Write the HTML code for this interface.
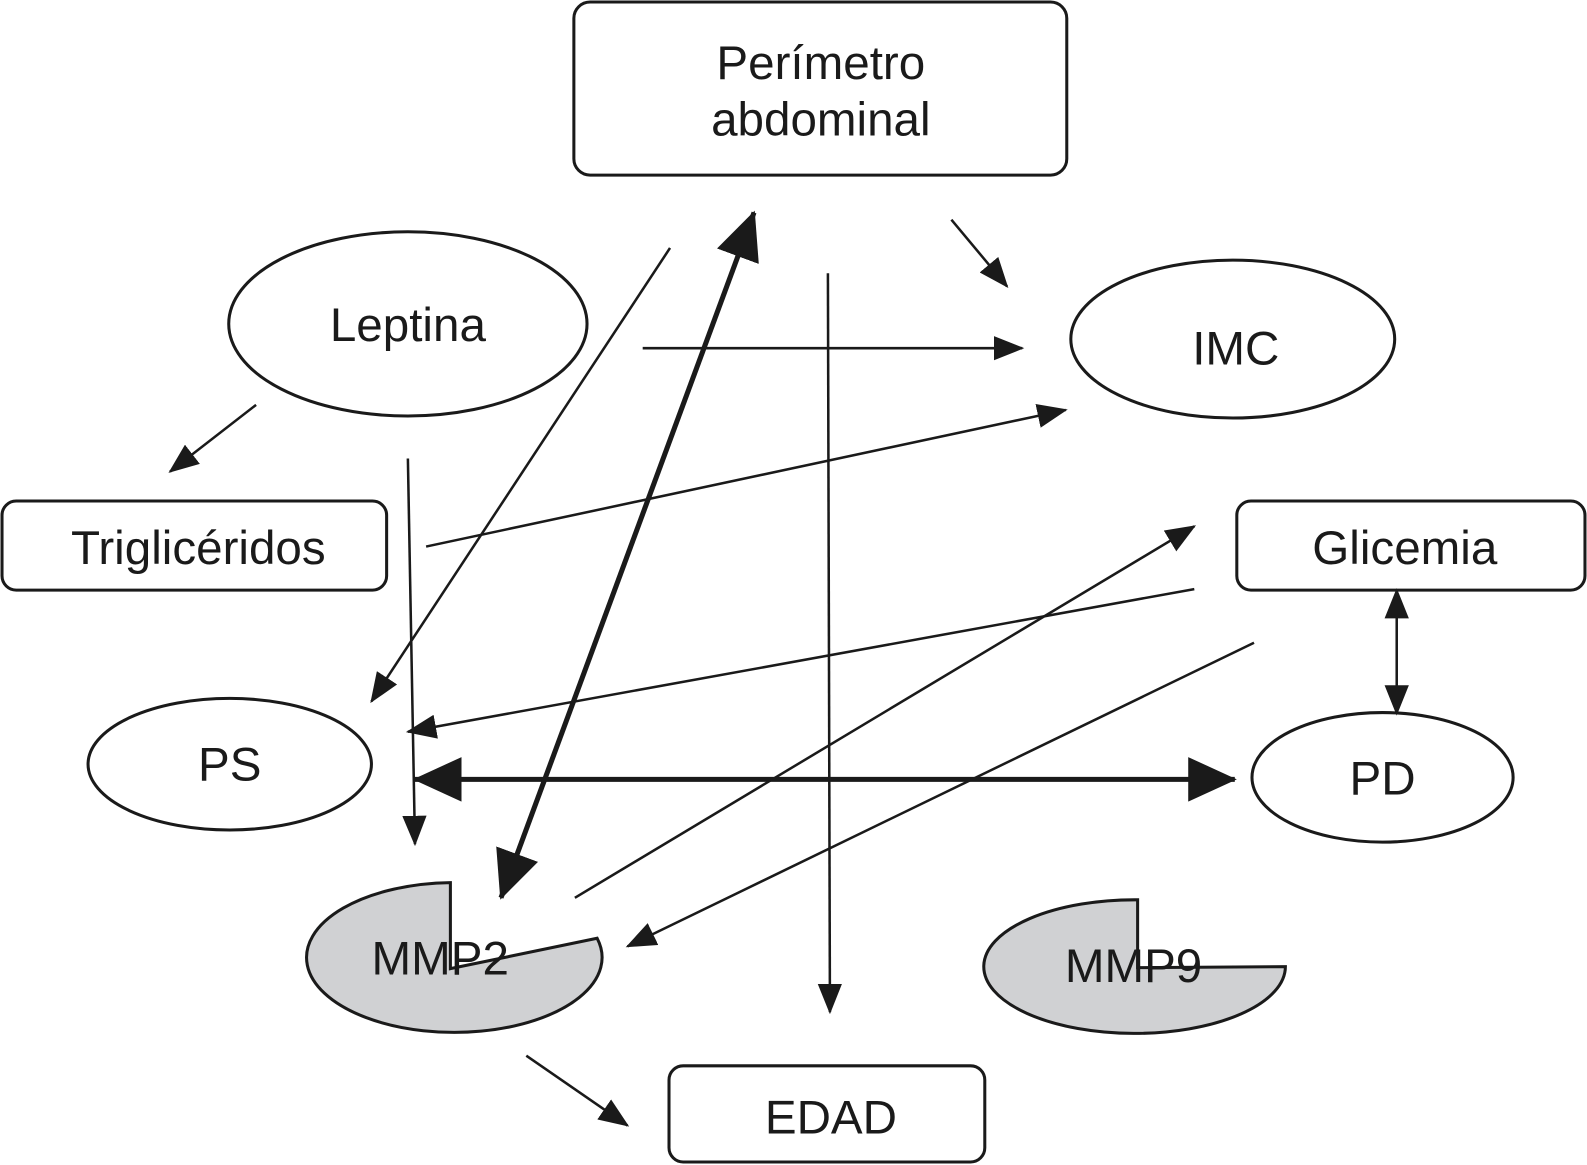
<!DOCTYPE html>
<html><head><meta charset="utf-8"><style>
html,body{margin:0;padding:0;background:#fff}
svg{display:block}
text{font-family:"Liberation Sans",sans-serif;fill:#1a1a1a}
</style></head><body>
<svg width="1587" height="1165" viewBox="0 0 1568 1151" preserveAspectRatio="none" xmlns="http://www.w3.org/2000/svg">
<defs>
<marker id="a" markerUnits="userSpaceOnUse" markerWidth="30" markerHeight="24" refX="28" refY="12" orient="auto-start-reverse"><path d="M0,0 L30,12 L0,24 Z" fill="#1a1a1a"/></marker>
<marker id="b" markerUnits="userSpaceOnUse" markerWidth="48" markerHeight="44" refX="46" refY="22" orient="auto-start-reverse"><path d="M0,0 L48,22 L0,44 Z" fill="#1a1a1a"/></marker>
</defs>
<g fill="none" stroke="#1a1a1a" stroke-width="3">
<rect x="567" y="2" width="487" height="171" rx="16"/>
<ellipse cx="403" cy="320" rx="177" ry="91"/>
<ellipse cx="1218" cy="335" rx="160" ry="78"/>
<rect x="2" y="495" width="380" height="88" rx="14"/>
<rect x="1222" y="495" width="344" height="88" rx="14"/>
<ellipse cx="227" cy="755" rx="140" ry="65"/>
<ellipse cx="1366" cy="768" rx="129" ry="64"/>
<rect x="661" y="1053" width="312" height="95" rx="14"/>
<path d="M445,957 L445,872 A146,74 0 1 0 590,927 Z" fill="#d0d1d3"/>
<path d="M1124,956 L1124,889 A149,66 0 1 0 1270,955 Z" fill="#d0d1d3"/>
</g>
<g font-size="47" text-anchor="middle">
<text x="811" y="78">Perímetro</text>
<text x="811" y="134">abdominal</text>
<text x="403" y="337">Leptina</text>
<text x="1221" y="360">IMC</text>
<text x="196" y="557">Triglicéridos</text>
<text x="1388" y="557">Glicemia</text>
<text x="227" y="771">PS</text>
<text x="1366" y="785">PD</text>
<text x="435" y="963">MMP2</text>
<text x="1120" y="970">MMP9</text>
<text x="821" y="1120">EDAD</text>
</g>
<g stroke="#1a1a1a" stroke-width="2.5" fill="none" marker-end="url(#a)">
<line x1="940" y1="217" x2="995" y2="283"/>
<line x1="635" y1="344" x2="1010" y2="344"/>
<line x1="662" y1="245" x2="367" y2="693"/>
<line x1="818" y1="270" x2="820" y2="1000"/>
<line x1="253" y1="400" x2="168" y2="466"/>
<line x1="403" y1="453" x2="410" y2="834"/>
<line x1="421" y1="540" x2="1053" y2="405"/>
<line x1="1180" y1="582" x2="403" y2="723"/>
<line x1="568" y1="887" x2="1180" y2="520"/>
<line x1="1239" y1="635" x2="620" y2="935"/>
<line x1="1380" y1="583" x2="1380" y2="705" marker-start="url(#a)"/>
<line x1="520" y1="1043" x2="620" y2="1112"/>
</g>
<g stroke="#1a1a1a" stroke-width="5" fill="none">
<line x1="495" y1="887" x2="745" y2="210" marker-end="url(#b)" marker-start="url(#b)"/>
<line x1="410" y1="770" x2="1220" y2="770" marker-end="url(#b)" marker-start="url(#b)"/>
</g>
</svg>
</body></html>
